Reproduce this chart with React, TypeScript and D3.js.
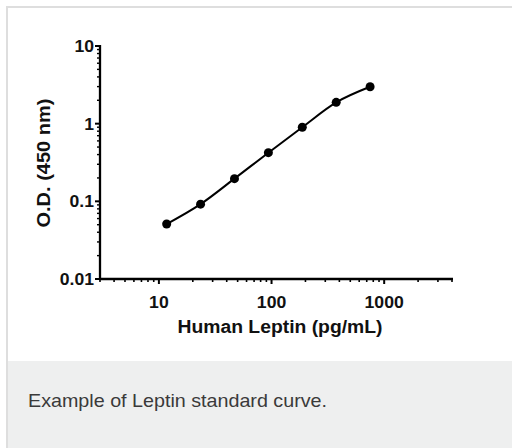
import { useEffect, useRef } from 'react'
import * as d3 from 'd3'

const WIDTH = 512
const HEIGHT = 448

// Standard curve data (pg/mL vs O.D. at 450 nm)
const concentrations = [11.72, 23.44, 46.88, 93.75, 187.5, 375, 750]
const odValues = [0.051, 0.092, 0.196, 0.423, 0.9, 1.88, 2.99]
const xTickValues = [10, 100, 1000]
const yTickValues = [0.01, 0.1, 1, 10]

const X_DOMAIN: [number, number] = [3, 4000]
const Y_DOMAIN: [number, number] = [0.01, 10]

const PLOT_LEFT = 100
const PLOT_RIGHT = 452
const PLOT_TOP = 46
const PLOT_BOTTOM = 279

const FONT = '"Liberation Sans", Arial, Helvetica, sans-serif'
const DIGIT_W = 9.8 // reference glyphs are a bit wider than Arial

function labelWidth(s: string) {
  // digits are wide, dot is narrow
  return s.split('').reduce((w, c) => w + (c === '.' ? 4.8 : DIGIT_W), 0)
}

function App() {
  const svgRef = useRef<SVGSVGElement | null>(null)

  useEffect(() => {
    if (!svgRef.current) return
    const svg = d3.select(svgRef.current)
    svg.selectAll('*').remove()

    // Card background
    svg.append('rect')
      .attr('x', 7).attr('y', 7)
      .attr('width', WIDTH + 20).attr('height', HEIGHT + 20)
      .attr('fill', '#fff')
      .attr('stroke', '#dedede')
      .attr('stroke-width', 2)
    svg.append('rect')
      .attr('x', 8).attr('y', 361)
      .attr('width', WIDTH).attr('height', HEIGHT - 361)
      .attr('fill', '#eeefef')
    svg.append('text')
      .attr('x', 28).attr('y', 407)
      .attr('font-family', FONT)
      .attr('font-size', 18.5)
      .attr('fill', '#3a3a3a')
      .attr('textLength', 299)
      .attr('lengthAdjust', 'spacingAndGlyphs')
      .text('Example of Leptin standard curve.')

    const x = d3.scaleLog().domain(X_DOMAIN).range([PLOT_LEFT, PLOT_RIGHT])
    const y = d3.scaleLog().domain(Y_DOMAIN).range([PLOT_BOTTOM, PLOT_TOP])

    // minor ticks
    const xMinor: number[] = []
    for (let d = 1; d <= 1000; d *= 10) {
      for (let k = 1; k <= 9; k++) {
        const v = d * k
        if (v >= X_DOMAIN[0] && v <= X_DOMAIN[1] && !xTickValues.includes(v)) xMinor.push(v)
      }
    }
    const yMinor: number[] = []
    for (let d = 0.01; d < 10; d *= 10) {
      for (let k = 2; k <= 9; k++) yMinor.push(+(d * k).toPrecision(3))
    }

    const axes = svg.append('g').attr('stroke', '#000')
    axes.append('line')
      .attr('x1', PLOT_LEFT - 1).attr('x2', PLOT_RIGHT + 1)
      .attr('y1', PLOT_BOTTOM).attr('y2', PLOT_BOTTOM)
      .attr('stroke-width', 2.3)
    axes.append('line')
      .attr('x1', PLOT_LEFT).attr('x2', PLOT_LEFT)
      .attr('y1', PLOT_TOP - 1).attr('y2', PLOT_BOTTOM + 1)
      .attr('stroke-width', 2.3)

    axes.selectAll('.xmaj').data(xTickValues).enter().append('line')
      .attr('x1', d => x(d)).attr('x2', d => x(d))
      .attr('y1', PLOT_BOTTOM).attr('y2', PLOT_BOTTOM + 5)
      .attr('stroke-width', 2)
    axes.selectAll('.xmin').data(xMinor).enter().append('line')
      .attr('x1', d => x(d)).attr('x2', d => x(d))
      .attr('y1', PLOT_BOTTOM).attr('y2', PLOT_BOTTOM + 3)
      .attr('stroke-width', 1.6)
    axes.selectAll('.ymaj').data(yTickValues).enter().append('line')
      .attr('x1', PLOT_LEFT - 5).attr('x2', PLOT_LEFT)
      .attr('y1', d => y(d)).attr('y2', d => y(d))
      .attr('stroke-width', 2)
    axes.selectAll('.ymin').data(yMinor).enter().append('line')
      .attr('x1', PLOT_LEFT - 3).attr('x2', PLOT_LEFT)
      .attr('y1', d => y(d)).attr('y2', d => y(d))
      .attr('stroke-width', 1.4)

    svg.selectAll('.xlab').data(xTickValues).enter().append('text')
      .attr('x', d => x(d)).attr('y', PLOT_BOTTOM + 29)
      .attr('text-anchor', 'middle')
      .attr('font-family', FONT).attr('font-weight', 'bold').attr('font-size', 16.5)
      .attr('fill', '#111')
      .attr('textLength', d => labelWidth(String(d)))
      .attr('lengthAdjust', 'spacingAndGlyphs')
      .text(d => String(d))
    svg.selectAll('.ylab').data(yTickValues).enter().append('text')
      .attr('x', PLOT_LEFT - 6).attr('y', d => y(d) + 6)
      .attr('text-anchor', 'end')
      .attr('font-family', FONT).attr('font-weight', 'bold').attr('font-size', 16.5)
      .attr('fill', '#111')
      .attr('textLength', d => labelWidth(String(d)))
      .attr('lengthAdjust', 'spacingAndGlyphs')
      .text(d => String(d))

    svg.append('text')
      .attr('x', 280).attr('y', 333)
      .attr('text-anchor', 'middle')
      .attr('font-family', FONT).attr('font-weight', 'bold').attr('font-size', 17.5)
      .attr('fill', '#111')
      .attr('textLength', 205)
      .attr('lengthAdjust', 'spacingAndGlyphs')
      .text('Human Leptin (pg/mL)')
    svg.append('text')
      .attr('transform', `translate(50, 163) rotate(-90)`)
      .attr('text-anchor', 'middle')
      .attr('font-family', FONT).attr('font-weight', 'bold').attr('font-size', 17.5)
      .attr('fill', '#111')
      .attr('textLength', 129)
      .attr('lengthAdjust', 'spacingAndGlyphs')
      .text('O.D. (450 nm)')

    // Curve
    const points = concentrations.map((c, i) => [x(c), y(odValues[i])] as [number, number])
    const line = d3.line().curve(d3.curveMonotoneX)
    svg.append('path')
      .attr('d', line(points))
      .attr('fill', 'none')
      .attr('stroke', '#000')
      .attr('stroke-width', 2)
    svg.selectAll('.pt').data(points).enter().append('circle')
      .attr('cx', d => d[0]).attr('cy', d => d[1])
      .attr('r', 4.5)
      .attr('fill', '#000')
  }, [])

  return (
    <svg
      ref={svgRef}
      width={WIDTH}
      height={HEIGHT}
      style={{ position: 'absolute', left: 0, top: 0 }}
    />
  )
}

export default App
